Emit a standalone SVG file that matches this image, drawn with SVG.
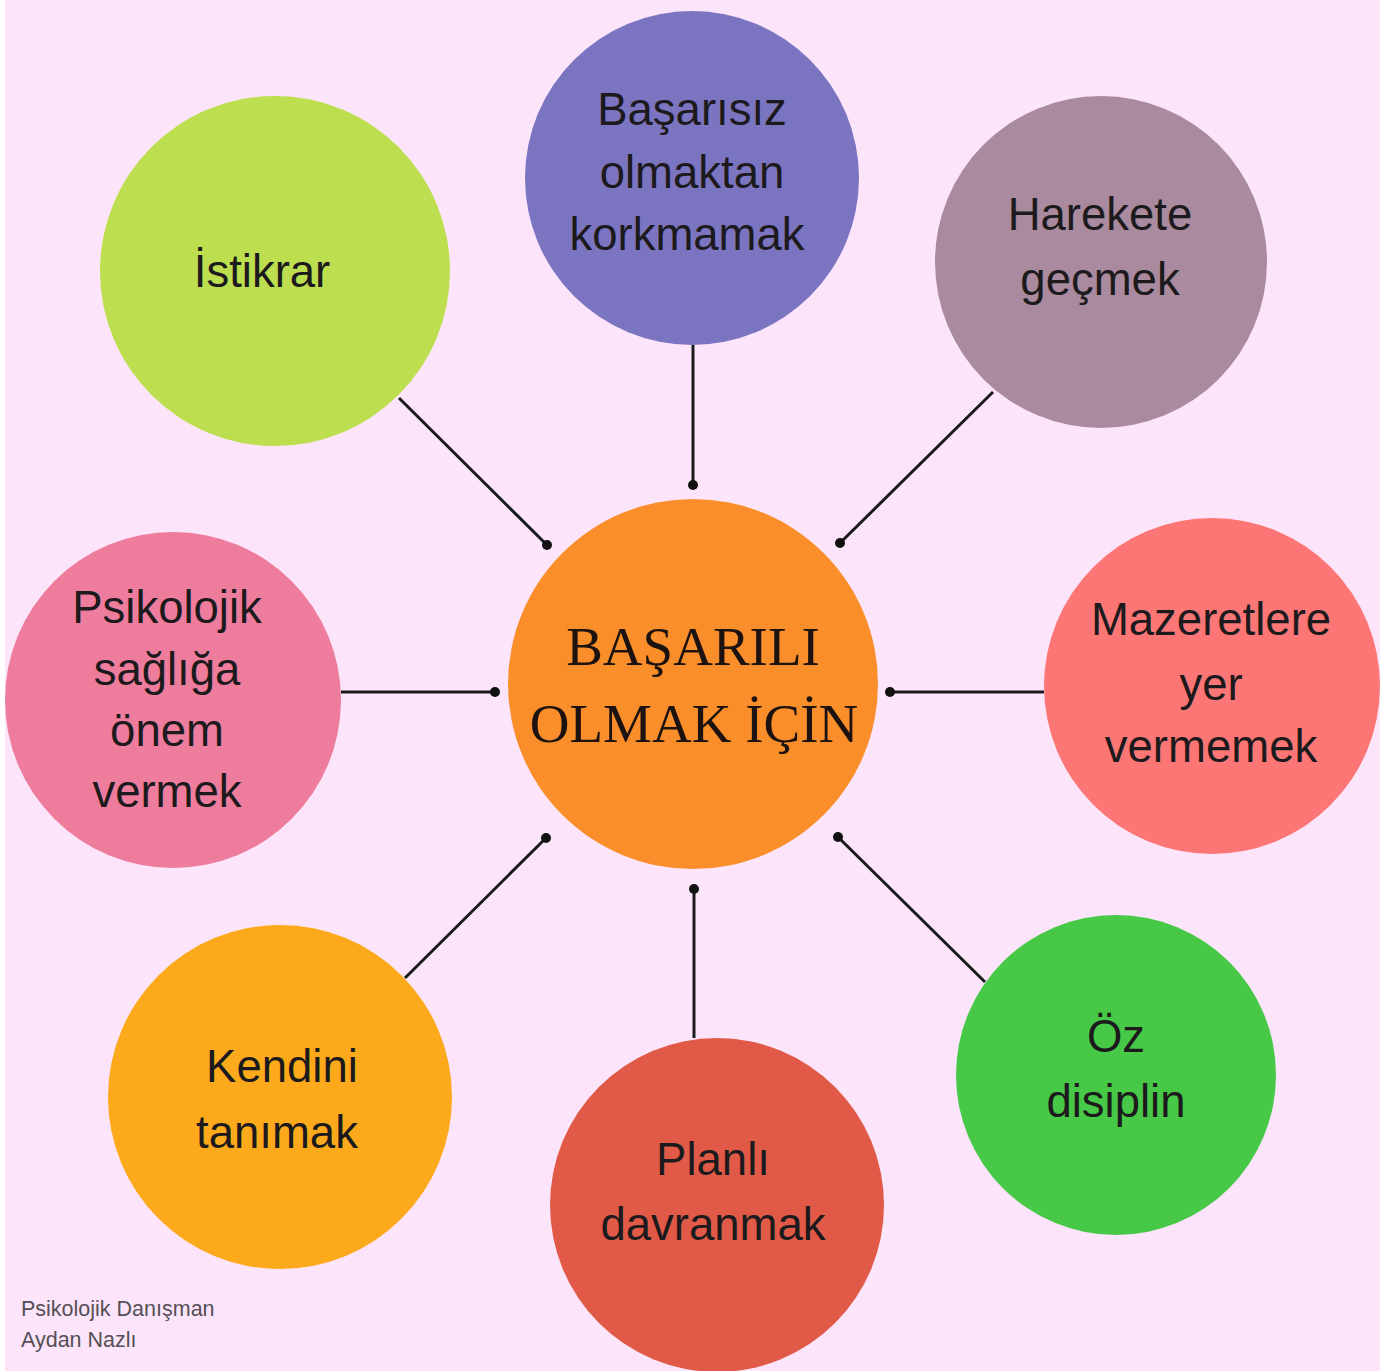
<svg xmlns="http://www.w3.org/2000/svg" width="1400" height="1371" viewBox="0 0 1400 1371">
<style>
.lbl{font-family:"Liberation Sans",Arial,sans-serif;font-size:45.5px;fill:#1c1a1c;text-anchor:middle}
.ctr{font-family:"Liberation Serif","Times New Roman",serif;font-size:55px;fill:#1c1210;text-anchor:middle}
.foot{font-family:"Liberation Sans",Arial,sans-serif;font-size:21.5px;fill:#555055}
.con line{stroke:#1a1a1a;stroke-width:3}
.con circle{fill:#111}
</style>
<rect width="1400" height="1371" fill="#ffffff"/>
<rect x="5" y="0" width="1375" height="1371" fill="#fce5fb"/>
<g id="connectors" class="con">
<line x1="693" y1="345" x2="693" y2="485"/><circle cx="693" cy="485" r="5"/>
<line x1="399" y1="398" x2="547" y2="545"/><circle cx="547" cy="545" r="5"/>
<line x1="993" y1="392" x2="840" y2="543"/><circle cx="840" cy="543" r="5"/>
<line x1="341" y1="692" x2="495" y2="692"/><circle cx="495" cy="692" r="5"/>
<line x1="1044" y1="692" x2="890" y2="692"/><circle cx="890" cy="692" r="5"/>
<line x1="405" y1="978" x2="546" y2="838"/><circle cx="546" cy="838" r="5"/>
<line x1="694" y1="1038" x2="694" y2="889"/><circle cx="694" cy="889" r="5"/>
<line x1="985" y1="982" x2="838" y2="837"/><circle cx="838" cy="837" r="5"/>
</g>
<g id="center">
<circle cx="693" cy="684" r="185" fill="#f98e2a"/>
<text class="ctr" x="693" y="665">BAŞARILI</text>
<text class="ctr" x="694" y="742">OLMAK İÇİN</text>
</g>
<g id="basarisiz">
<circle cx="692" cy="178" r="167" fill="#7b74c0"/>
<text class="lbl" x="692" y="125">Başarısız</text>
<text class="lbl" x="692" y="188">olmaktan</text>
<text class="lbl" x="687" y="250">korkmamak</text>
</g>
<g id="istikrar">
<circle cx="275" cy="271" r="175" fill="#bdde4f"/>
<text class="lbl" x="262" y="287">İstikrar</text>
</g>
<g id="harekete">
<circle cx="1101" cy="262" r="166" fill="#a98a9e"/>
<text class="lbl" x="1100" y="230">Harekete</text>
<text class="lbl" x="1100" y="295">geçmek</text>
</g>
<g id="psikolojik">
<circle cx="173" cy="700" r="168" fill="#ee7c9c"/>
<text class="lbl" x="167" y="623">Psikolojik</text>
<text class="lbl" x="167" y="685">sağlığa</text>
<text class="lbl" x="167" y="746">önem</text>
<text class="lbl" x="167" y="807">vermek</text>
</g>
<g id="mazeretlere">
<circle cx="1212" cy="686" r="168" fill="#fc7676"/>
<text class="lbl" x="1211" y="635">Mazeretlere</text>
<text class="lbl" x="1211" y="700">yer</text>
<text class="lbl" x="1211" y="762">vermemek</text>
</g>
<g id="kendini">
<circle cx="280" cy="1097" r="172" fill="#fcaa1b"/>
<text class="lbl" x="282" y="1082">Kendini</text>
<text class="lbl" x="277" y="1148">tanımak</text>
</g>
<g id="planli">
<circle cx="717" cy="1205" r="167" fill="#e05a47"/>
<text class="lbl" x="713" y="1175">Planlı</text>
<text class="lbl" x="713" y="1240">davranmak</text>
</g>
<g id="ozdisiplin">
<circle cx="1116" cy="1075" r="160" fill="#47c847"/>
<text class="lbl" x="1116" y="1052">Öz</text>
<text class="lbl" x="1116" y="1117">disiplin</text>
</g>
<g id="footer">
<text class="foot" x="21" y="1316">Psikolojik Danışman</text>
<text class="foot" x="21" y="1347">Aydan Nazlı</text>
</g>
</svg>
